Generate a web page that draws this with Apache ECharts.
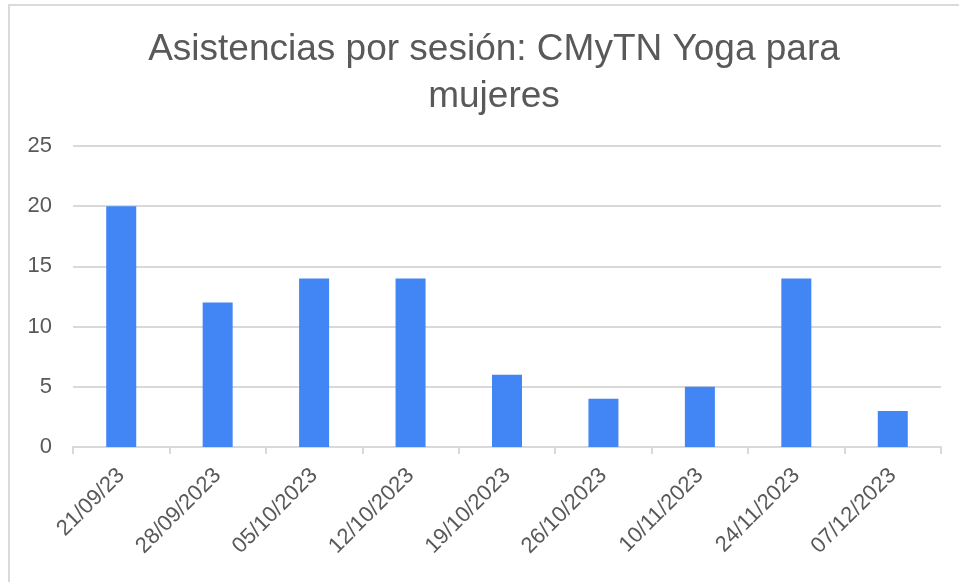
<!DOCTYPE html>
<html>
<head>
<meta charset="utf-8">
<script src="https://cdn.jsdelivr.net/npm/echarts@6/dist/echarts.min.js"></script>
<style>
html,body{margin:0;padding:0;background:#fff;}
#frame{position:absolute;left:8px;top:4px;width:960px;height:600px;border-top:2px solid #dadada;border-left:2px solid #dadada;box-sizing:border-box;pointer-events:none;}
#chart{position:absolute;left:0;top:0;width:959px;height:582px;}
</style>
</head>
<body>
<div id="chart"></div>
<div id="frame"></div>
<script>
const categories = ["21/09/23","28/09/2023","05/10/2023","12/10/2023","19/10/2023","26/10/2023","10/11/2023","24/11/2023","07/12/2023"];
const values = [20,12,14,14,6,4,5,14,3];
const yTicks = [0,5,10,15,20,25];

const chart = echarts.init(document.getElementById('chart'));
chart.setOption({
  backgroundColor: 'transparent',
  title: {
    text: 'Asistencias por sesión: CMyTN Yoga para\nmujeres',
    left: 489, top: 21, textAlign: 'center',
    textStyle: {fontFamily: 'Liberation Sans, Arial, sans-serif', fontSize: 37, fontWeight: 'normal', color: '#595959', lineHeight: 47}
  },
  grid: {left: 73, right: 18, top: 146, bottom: 135, containLabel: false},
  xAxis: {
    type: 'category', data: categories,
    axisLine: {lineStyle: {color: '#d9d9d9', width: 2}},
    axisTick: {show: true, alignWithLabel: false, length: 7, lineStyle: {color: '#d9d9d9', width: 2}},
    axisLabel: {rotate: 45, margin: 25, fontFamily: 'Liberation Sans, Arial, sans-serif', fontSize: 22, color: '#595959', interval: 0}
  },
  yAxis: {
    type: 'value', min: yTicks[0], max: yTicks[yTicks.length-1], interval: 5,
    axisLine: {show: false}, axisTick: {show: false},
    splitLine: {lineStyle: {color: '#d9d9d9', width: 2}},
    axisLabel: {margin: 21, fontFamily: 'Liberation Sans, Arial, sans-serif', fontSize: 22, color: '#595959'}
  },
  series: [{
    type: 'bar', data: values, barWidth: 30,
    itemStyle: {color: '#4285f4'},
    animation: false
  }],
  animation: false
});
</script>
</body>
</html>
